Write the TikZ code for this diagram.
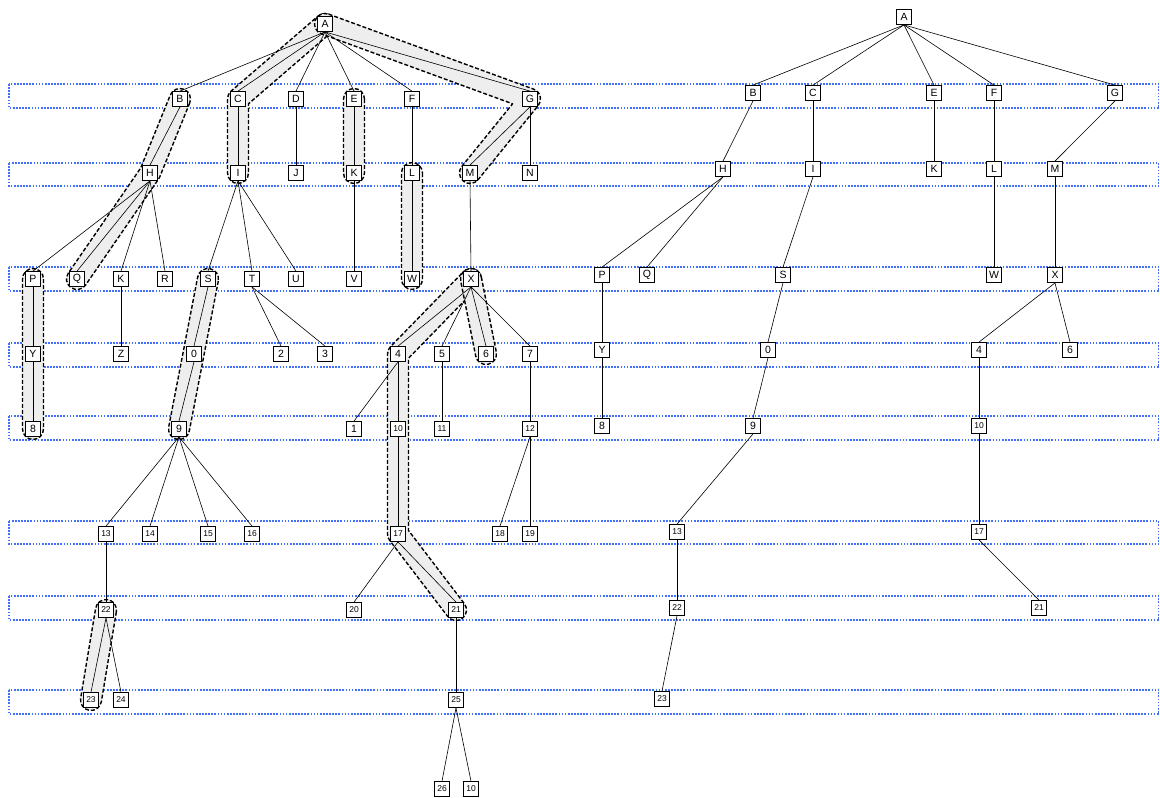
\documentclass[tikz,border=0pt]{standalone}
\usepackage{fontspec}
\setmainfont{Liberation Sans}
\usetikzlibrary{calc}
\pgfdeclarelayer{bands}
\pgfdeclarelayer{hulls}
\pgfdeclarelayer{edges}
\pgfsetlayers{bands,hulls,edges,main}
\definecolor{bandblue}{RGB}{66,112,248}
\definecolor{hullgray}{RGB}{238,238,238}
\tikzset{
  nd/.style={draw, line width=0.8pt, fill=white, minimum size=15pt, inner sep=0pt, font=\fontsize{10.5}{10.5}\selectfont},
  nds/.style={nd, font=\fontsize{8.5}{8.5}\selectfont},
  edge/.style={draw, line width=0.6pt},
  band/.style={draw=bandblue, line width=1.7pt, dash pattern=on 1.7pt off 1.4pt},
  hull/.style={fill=hullgray, draw=black, line width=1.4pt, dash pattern=on 4pt off 2pt, line join=round},
}
\def\hr{10.5pt}
\newcommand\ed[2]{\draw[edge] (#1.south) -- (#2.north);}
\newcommand\hullTwo[2]{%
  \path[hull] let \p1=(#1.center), \p2=(#2.center), \n1={atan2(\y2-\y1,\x2-\x1)} in
    ($(\p1)+({\n1+90}:\hr)$) -- ($(\p2)+({\n1+90}:\hr)$)
    arc[start angle=\n1+90, end angle=\n1-90, radius=\hr]
    -- ($(\p1)+({\n1-90}:\hr)$)
    arc[start angle=\n1-90, end angle=\n1-270, radius=\hr] -- cycle;}
\newcommand\hullLT[3]{%
  \path[hull] let \p1=(#1.center), \p2=(#2.center), \p3=(#3.center),
    \n1={atan2(\y2-\y1,\x2-\x1)}, \n2={atan2(\y3-\y2,\x3-\x2)},
    \n3={10.5/cos((\n2-\n1)/2)}, \n4={(\n1+\n2)/2+90} in
    ($(\p1)+({\n1+90}:\hr)$) -- ($(\p2)+(\n4:\n3)$) -- ($(\p3)+({\n2+90}:\hr)$)
    arc[start angle=\n2+90, end angle=\n2-90, radius=\hr]
    -- ($(\p2)+({\n2-90}:\hr)$)
    arc[start angle=\n2-90, end angle=\n1-90, radius=\hr]
    -- ($(\p1)+({\n1-90}:\hr)$)
    arc[start angle=\n1-90, end angle=\n1-270, radius=\hr] -- cycle;}
\newcommand\hullRT[3]{%
  \path[hull] let \p1=(#1.center), \p2=(#2.center), \p3=(#3.center),
    \n1={atan2(\y2-\y1,\x2-\x1)}, \n2={atan2(\y3-\y2,\x3-\x2)},
    \n3={10.5/cos((\n2-\n1)/2)}, \n4={(\n1+\n2)/2-90} in
    ($(\p1)+({\n1+90}:\hr)$) -- ($(\p2)+({\n1+90}:\hr)$)
    arc[start angle=\n1+90, end angle=\n2+90, radius=\hr]
    -- ($(\p3)+({\n2+90}:\hr)$)
    arc[start angle=\n2+90, end angle=\n2-90, radius=\hr]
    -- ($(\p2)+(\n4:\n3)$)
    -- ($(\p1)+({\n1-90}:\hr)$)
    arc[start angle=\n1-90, end angle=\n1-270, radius=\hr] -- cycle;}
\newcommand\hullFour[4]{%
  \path[hull] let \p1=(#1.center), \p2=(#2.center), \p3=(#3.center), \p4=(#4.center),
    \n1={atan2(\y2-\y1,\x2-\x1)}, \n2={atan2(\y3-\y2,\x3-\x2)}, \n3={atan2(\y4-\y3,\x4-\x3)},
    \n5={10.5/cos((\n2-\n1)/2)}, \n6={(\n1+\n2)/2+90},
    \n7={10.5/cos((\n3-\n2)/2)}, \n8={(\n2+\n3)/2+90} in
    ($(\p1)+({\n1+90}:\hr)$) -- ($(\p2)+(\n6:\n5)$) -- ($(\p3)+(\n8:\n7)$)
    -- ($(\p4)+({\n3+90}:\hr)$)
    arc[start angle=\n3+90, end angle=\n3-90, radius=\hr]
    -- ($(\p3)+({\n3-90}:\hr)$)
    arc[start angle=\n3-90, end angle=\n2-90, radius=\hr]
    -- ($(\p2)+({\n2-90}:\hr)$)
    arc[start angle=\n2-90, end angle=\n1-90, radius=\hr]
    -- ($(\p1)+({\n1-90}:\hr)$)
    arc[start angle=\n1-90, end angle=\n1-270, radius=\hr] -- cycle;}
\begin{document}
\begin{tikzpicture}[x=1pt, y=1pt]
\useasboundingbox (0,0) rectangle (1160,-798);
% ---------- left tree nodes ----------
\node[nd] (lA) at (325,-24) {A};
\node[nd] (lB) at (180,-99) {B};
\node[nd] (lC) at (238,-99) {C};
\node[nd] (lD) at (296,-99) {D};
\node[nd] (lE) at (354,-99) {E};
\node[nd] (lF) at (412,-99) {F};
\node[nd] (lG) at (530,-99) {G};
\node[nd] (lH) at (150,-173) {H};
\node[nd] (lI) at (238,-173) {I};
\node[nd] (lJ) at (296,-173) {J};
\node[nd] (lK) at (354,-173) {K};
\node[nd] (lL) at (412,-173) {L};
\node[nd] (lM) at (470,-173) {M};
\node[nd] (lN) at (530,-173) {N};
\node[nd] (lP) at (33,-279) {P};
\node[nd] (lQ) at (77,-279) {Q};
\node[nd] (lKb) at (121,-279) {K};
\node[nd] (lR) at (165,-279) {R};
\node[nd] (lS) at (208,-279) {S};
\node[nd] (lT) at (252,-279) {T};
\node[nd] (lU) at (296,-279) {U};
\node[nd] (lV) at (354,-279) {V};
\node[nd] (lW) at (412,-279) {W};
\node[nd] (lX) at (471,-279) {X};
\node[nd] (lY) at (33,-354) {Y};
\node[nd] (lZ) at (121,-354) {Z};
\node[nd] (l0) at (194,-354) {0};
\node[nd] (l2) at (281,-354) {2};
\node[nd] (l3) at (325,-354) {3};
\node[nd] (l4) at (398,-354) {4};
\node[nd] (l5) at (442,-354) {5};
\node[nd] (l6) at (486,-354) {6};
\node[nd] (l7) at (530,-354) {7};
\node[nd] (l8) at (33,-429) {8};
\node[nd] (l9) at (179,-429) {9};
\node[nd] (l1) at (354,-429) {1};
\node[nds] (l10) at (398,-429) {10};
\node[nds] (l11) at (442,-429) {11};
\node[nds] (l12) at (530,-429) {12};
\node[nds] (l13) at (106,-534) {13};
\node[nds] (l14) at (150,-534) {14};
\node[nds] (l15) at (208,-534) {15};
\node[nds] (l16) at (252,-534) {16};
\node[nds] (l17) at (398,-534) {17};
\node[nds] (l18) at (500,-534) {18};
\node[nds] (l19) at (530,-534) {19};
\node[nds] (l22) at (106,-610) {22};
\node[nds] (l20) at (354,-610) {20};
\node[nds] (l21) at (456,-610) {21};
\node[nds] (l23) at (91,-700) {23};
\node[nds] (l24) at (121,-700) {24};
\node[nds] (l25) at (456,-700) {25};
\node[nds] (l26) at (442,-789) {26};
\node[nds] (l10b) at (471,-789) {10};
% ---------- right tree nodes ----------
\node[nd] (rA) at (904,-17) {A};
\node[nd] (rB) at (753,-93) {B};
\node[nd] (rC) at (813,-93) {C};
\node[nd] (rE) at (934,-93) {E};
\node[nd] (rF) at (994,-93) {F};
\node[nd] (rG) at (1115,-93) {G};
\node[nd] (rH) at (723,-169) {H};
\node[nd] (rI) at (813,-169) {I};
\node[nd] (rK) at (934,-169) {K};
\node[nd] (rL) at (994,-169) {L};
\node[nd] (rM) at (1055,-169) {M};
\node[nd] (rP) at (602,-275) {P};
\node[nd] (rQ) at (647,-275) {Q};
\node[nd] (rS) at (783,-275) {S};
\node[nd] (rW) at (994,-275) {W};
\node[nd] (rX) at (1055,-275) {X};
\node[nd] (rY) at (602,-350) {Y};
\node[nd] (r0) at (768,-350) {0};
\node[nd] (r4) at (979,-350) {4};
\node[nd] (r6) at (1070,-350) {6};
\node[nd] (r8) at (602,-426) {8};
\node[nd] (r9) at (753,-426) {9};
\node[nds] (r10) at (979,-426) {10};
\node[nds] (r13) at (677,-532) {13};
\node[nds] (r17) at (979,-532) {17};
\node[nds] (r22) at (677,-608) {22};
\node[nds] (r21) at (1039,-608) {21};
\node[nds] (r23) at (662,-699) {23};
% ---------- edges ----------
\begin{pgfonlayer}{edges}
\ed{lA}{lB}\ed{lA}{lC}\ed{lA}{lD}\ed{lA}{lE}\ed{lA}{lF}\ed{lA}{lG}
\ed{lB}{lH}\ed{lC}{lI}\ed{lD}{lJ}\ed{lE}{lK}\ed{lF}{lL}\ed{lG}{lM}\ed{lG}{lN}
\ed{lH}{lP}\ed{lH}{lQ}\ed{lH}{lKb}\ed{lH}{lR}
\ed{lI}{lS}\ed{lI}{lT}\ed{lI}{lU}
\ed{lK}{lV}\ed{lL}{lW}\ed{lM}{lX}
\ed{lP}{lY}\ed{lKb}{lZ}\ed{lS}{l0}\ed{lT}{l2}\ed{lT}{l3}
\ed{lX}{l4}\ed{lX}{l5}\ed{lX}{l6}\ed{lX}{l7}
\ed{lY}{l8}\ed{l0}{l9}\ed{l4}{l1}\ed{l4}{l10}\ed{l5}{l11}\ed{l7}{l12}
\ed{l9}{l13}\ed{l9}{l14}\ed{l9}{l15}\ed{l9}{l16}\ed{l10}{l17}\ed{l12}{l18}\ed{l12}{l19}
\ed{l13}{l22}\ed{l17}{l20}\ed{l17}{l21}
\ed{l22}{l23}\ed{l22}{l24}\ed{l21}{l25}
\ed{l25}{l26}\ed{l25}{l10b}
\ed{rA}{rB}\ed{rA}{rC}\ed{rA}{rE}\ed{rA}{rF}\ed{rA}{rG}
\ed{rB}{rH}\ed{rC}{rI}\ed{rE}{rK}\ed{rF}{rL}\ed{rG}{rM}
\ed{rH}{rP}\ed{rH}{rQ}\ed{rI}{rS}\ed{rL}{rW}\ed{rM}{rX}
\ed{rP}{rY}\ed{rS}{r0}\ed{rX}{r4}\ed{rX}{r6}
\ed{rY}{r8}\ed{r0}{r9}\ed{r4}{r10}
\ed{r9}{r13}\ed{r10}{r17}
\ed{r13}{r22}\ed{r17}{r21}
\ed{r22}{r23}
\end{pgfonlayer}
% ---------- bands ----------
\begin{pgfonlayer}{bands}
\foreach \t/\b in {84/108, 163/186, 267/291, 343/367, 416/440, 521/544, 596/620, 690/714}
  \draw[band] (9,-\t) rectangle (1158.5,-\b);
\end{pgfonlayer}
% ---------- hulls ----------
\begin{pgfonlayer}{hulls}
\hullLT{lA}{lC}{lI}
\hullRT{lA}{lG}{lM}
\hullRT{lB}{lH}{lQ}
\hullTwo{lE}{lK}
\hullTwo{lL}{lW}
\hullTwo{lP}{l8}
\hullTwo{lS}{l9}
\hullFour{lX}{l4}{l17}{l21}
\hullTwo{lX}{l6}
\hullTwo{l22}{l23}
\end{pgfonlayer}
\end{tikzpicture}
\end{document}
